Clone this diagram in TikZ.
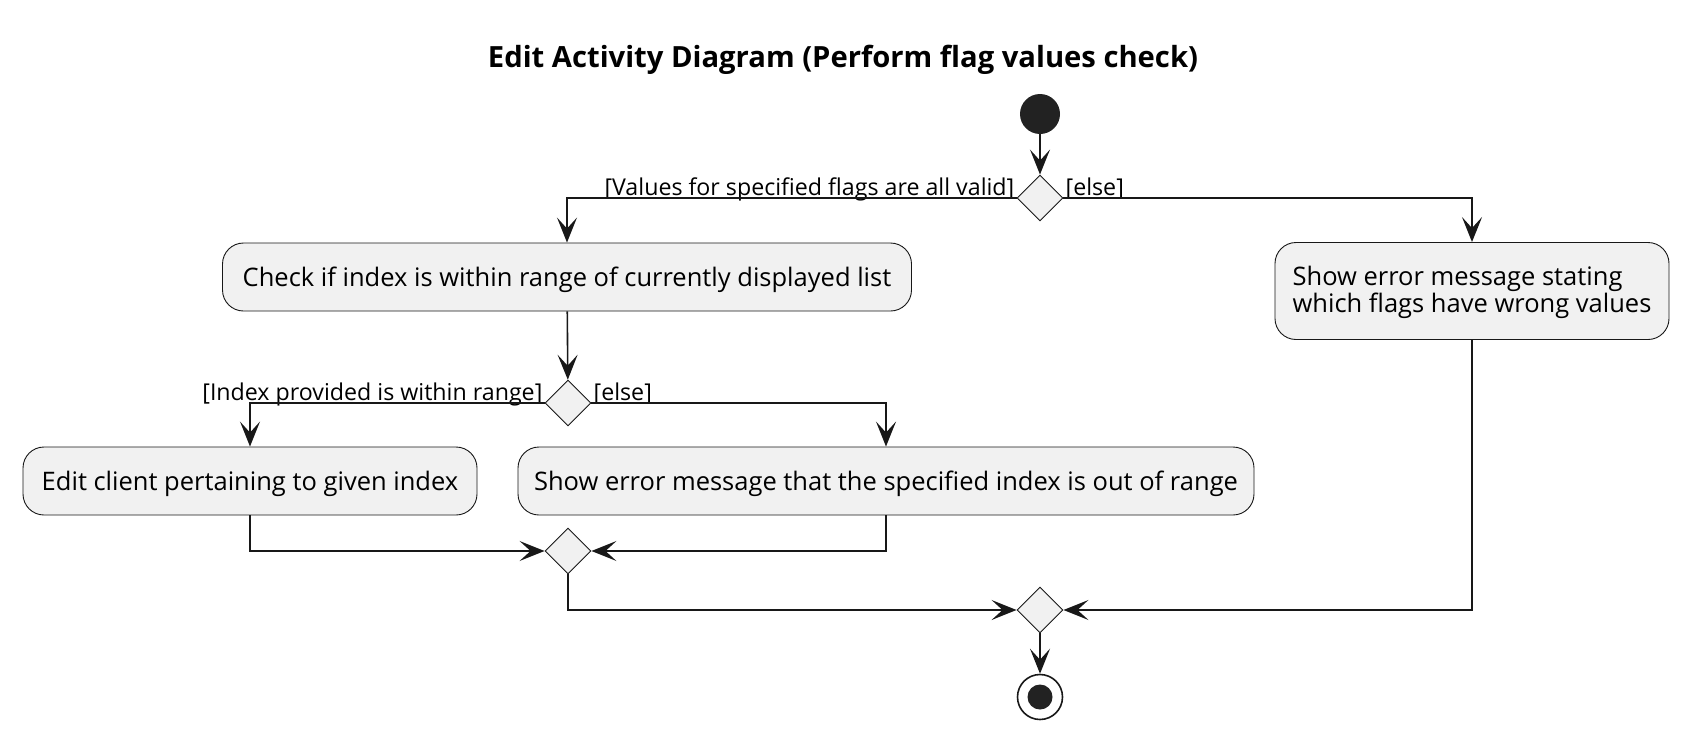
\documentclass[tikz,border=0pt]{standalone}
\usepackage{fontspec}
\setmainfont{Open Sans}
\usetikzlibrary{shapes.geometric,arrows.meta}
\definecolor{ink}{HTML}{181818}
\definecolor{boxfill}{HTML}{F1F1F1}
\definecolor{dot}{HTML}{222222}

\begin{document}
\begin{tikzpicture}[x=1pt,y=-1pt]

    \tikzset{
      action/.style={
        draw=ink,
        fill=boxfill,
        line width=0.9pt,
        rounded corners=21pt,
        inner sep=0pt,
        minimum height=68pt,
        text height=21pt,
        text depth=2pt,
        font=\fontsize{25.5}{27.7}\selectfont,
      },
      branch/.style={
        draw=ink,
        fill=boxfill,
        line width=0.9pt,
        diamond,
        aspect=1,
        inner sep=0pt,
        minimum width=46pt,
        minimum height=46pt,
      },
      flow/.style={
        draw=ink,
        line width=1.6pt,
        -{Stealth[length=25pt,width=20pt,inset=11pt]},
      },
      guard/.style={
        inner sep=0pt,
        font=\fontsize{23.2}{27}\selectfont,
      },
    }
    \useasboundingbox (0,0) rectangle (1688,739);
	\node[font=\bfseries\fontsize{29.2}{34}\selectfont] (title) at (843,60) {Edit Activity Diagram (Perform flag values check)};
	% start and first check
	\node[circle, fill=dot, minimum size=40pt, inner sep=0pt] (start) at (1040,114) {};
	\node[branch] (flagsok) at (1040,198) {};
	\node[action, minimum width=689pt] (inrange) at (567,277) {Check if index is within range of currently displayed list};
	\node[action, minimum width=394pt, minimum height=97pt, text height=45pt, text depth=1.6pt, align=left] (flagerr) at (1472,291) {Show error message stating\\which flags have wrong values};
	\node[branch] (indexok) at (568,403) {};
	\node[action, minimum width=454pt] (edit) at (250,481) {Edit client pertaining to given index};
	\node[action, minimum width=736pt] (rangeerr) at (886,481) {Show error message that the specified index is out of range};
	\node[branch] (mergeidx) at (568,551) {};
	\node[branch] (mergeall) at (1040,610) {};
	% end
	\node[circle, draw=ink, line width=1.6pt, fill=white, minimum size=45pt, inner sep=0pt] (stop) at (1040,697) {};
	\node[circle, fill=dot, minimum size=25pt, inner sep=0pt] (stopdot) at (stop) {};
	% guards
	\node[guard, anchor=base east] (gvalid) at ([xshift=-2pt,yshift=3pt]flagsok.west) {[Values for specified flags are all valid]};
	\node[guard, anchor=base west] (gelse1) at ([xshift=2pt,yshift=3pt]flagsok.east) {[else]};
	\node[guard, anchor=base east] (gindex) at ([xshift=-2pt,yshift=3pt]indexok.west) {[Index provided is within range]};
	\node[guard, anchor=base west] (gelse2) at ([xshift=2pt,yshift=3pt]indexok.east) {[else]};
	% connectors
	\draw[flow] (start) -- (flagsok);
	\draw[flow] (flagsok.west) -| (inrange.north);
	\draw[flow] (flagsok.east) -| (flagerr.north);
	\draw[flow] (inrange) -- (indexok);
	\draw[flow] (indexok.west) -| (edit.north);
	\draw[flow] (indexok.east) -| (rangeerr.north);
	\draw[flow] (edit.south) |- (mergeidx.west);
	\draw[flow] (rangeerr.south) |- (mergeidx.east);
	\draw[flow] (mergeidx.south) |- (mergeall.west);
	\draw[flow] (flagerr.south) |- (mergeall.east);
	\draw[flow] (mergeall) -- (stop);

\end{tikzpicture}
\end{document}
